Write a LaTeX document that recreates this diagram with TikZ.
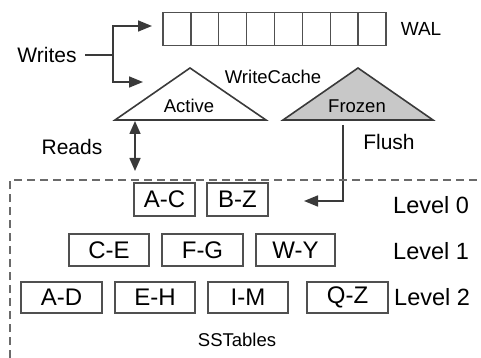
\documentclass[tikz,border=0pt]{standalone}
\usepackage{fontspec}
\setmainfont{Liberation Sans}
\usetikzlibrary{arrows.meta}
\definecolor{linec}{HTML}{3A3A3A}
\definecolor{boxc}{HTML}{505050}
\definecolor{frozenc}{HTML}{C8C8C8}
\definecolor{dashc}{HTML}{6A6A6A}
\tikzset{
  big/.style={font=\fontsize{21}{25}\selectfont, inner sep=0pt, text=black},
  small/.style={font=\fontsize{18.5}{22}\selectfont, inner sep=0pt, text=black},
  lvl/.style={font=\fontsize{23.5}{27}\selectfont, inner sep=0pt, text=black, anchor=west},
  sstbox/.style={draw=boxc, line width=1.4pt, minimum height=31pt, inner sep=0pt,
     font=\fontsize{24}{28}\selectfont},
  cell/.style={draw=boxc, line width=1.4pt, minimum width=27.875pt, minimum height=33pt, inner sep=0pt},
  conn/.style={draw=linec, line width=1.6pt},
  tip/.style={-{Triangle[length=14pt,width=11pt]}},
  tri/.style={draw=linec, line width=1.6pt, line join=miter},
}
\begin{document}
\begin{tikzpicture}[x=1pt,y=-1pt]
\useasboundingbox (0,0) rectangle (481,358);
% WAL
\foreach \i in {0,...,7} {
  \node[cell] (c\i) at ({163+27.875*\i+13.9375},29) {};
}
\node[small, font=\fontsize{19}{22}\selectfont] (wal) at (421,29) {WAL};
% Writes
\node[big] (writes) at (47,55) {Writes};
\coordinate (wstart) at (85,55);
\coordinate (split) at (113,55);
\coordinate (toWAL) at (152,26);
\coordinate (toAct) at (143,82);
\draw[conn] (wstart) -- (split);
\draw[conn, tip] (split) |- (toWAL);
\draw[conn, tip] (split) |- (toAct);
% triangles
\draw[tri, fill=white] (115,120) coordinate (actL) -- (190,68) coordinate (actT) -- (266,120) coordinate (actR) -- cycle;
\draw[tri, fill=frozenc] (283,120) coordinate (frzL) -- (358,68) coordinate (frzT) -- (433,120) coordinate (frzR) -- cycle;
\node[small] (active) at (189,106) {Active};
\node[small] (frozen) at (357,106) {Frozen};
\node[small] (wc) at (273,77) {WriteCache};
% Reads
\node[big] (reads) at (72,147) {Reads};
\coordinate (rtop) at (135,121);
\coordinate (rbot) at (135,171);
\draw[conn, {Triangle[length=13pt,width=11pt]}-{Triangle[length=13pt,width=11pt]}] (rtop) -- (rbot);
% Flush
\node[big] (flush) at (389,142) {Flush};
\coordinate (fstart) at (343,125);
\coordinate (fend) at (304,201);
\draw[conn, tip] (fstart) |- (fend);
% dashed region
\draw[draw=dashc, line width=1.4pt, dash pattern=on 8pt off 5pt] (10,358) -- (10,180) -- (481,180);
% SSTables
\node[sstbox, minimum width=61pt, minimum height=33pt] (ac) at (164.5,199.5) {A-C};
\node[sstbox, minimum width=61pt, minimum height=33pt] (bz) at (237.5,199.5) {B-Z};
\node[sstbox, minimum width=80pt, minimum height=32pt] (ce) at (109,250) {C-E};
\node[sstbox, minimum width=81pt, minimum height=32pt] (fg) at (202.5,250) {F-G};
\node[sstbox, minimum width=79pt, minimum height=32pt] (wy) at (295.5,250) {W-Y};
\node[sstbox, minimum width=81pt] (ad) at (61.5,297.5) {A-D};
\node[sstbox, minimum width=80pt] (eh) at (155,297.5) {E-H};
\node[sstbox, minimum width=80pt] (im) at (248,297.5) {I-M};
\node[sstbox, minimum width=81pt] (qz) at (347.5,297.5) {Q-Z};
\node[lvl] (l0) at (393,205) {Level 0};
\node[lvl] (l1) at (393,251) {Level 1};
\node[lvl] (l2) at (394,297) {Level 2};
\node[small] (sst) at (237,340) {SSTables};
\end{tikzpicture}
\end{document}
